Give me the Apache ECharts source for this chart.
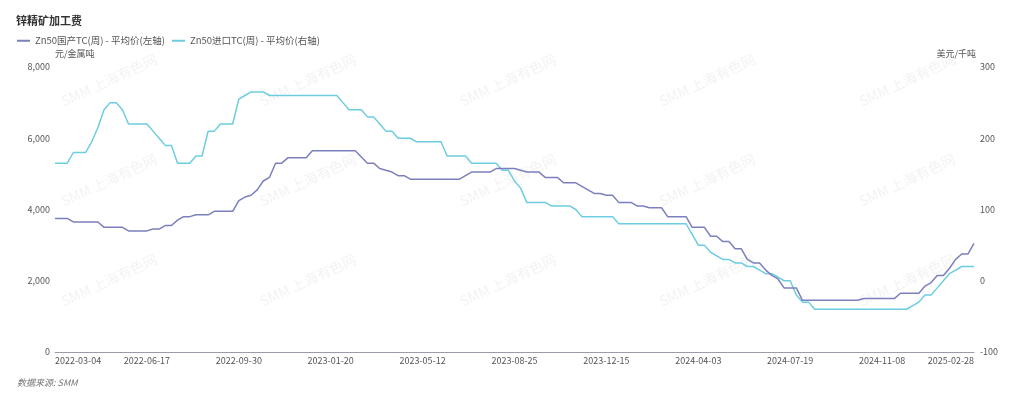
<!DOCTYPE html>
<html>
<head>
<meta charset="utf-8">
<script src="https://cdn.jsdelivr.net/npm/echarts@6/dist/echarts.min.js"></script>
<style>
html, body { margin: 0; padding: 0; background: #fff; }
#chart { width: 1024px; height: 399px; }
</style>
</head>
<body>
<div id="chart"></div>
<script>
// weekly dates (Fridays), holiday weeks skipped, one Wednesday release
const startDate = '2022-03-04'
const endDate = '2025-02-28'
const skippedWeeks = ['2022-10-07', '2023-01-27', '2023-10-06', '2024-02-16', '2024-10-04', '2025-01-31']
const movedWeeks = { '2024-04-05': '2024-04-03' }

// Zn50国产TC(周) - 平均价, 元/金属吨 (left axis)
const domesticTC = [
  3750, 3750, 3750, 3650, 3650, 3650, 3650, 3650, 3500, 3500,
  3500, 3500, 3400, 3400, 3400, 3400, 3450, 3450, 3550, 3550,
  3700, 3800, 3800, 3850, 3850, 3850, 3950, 3950, 3950, 3950,
  4250, 4350, 4400, 4550, 4800, 4900, 5300, 5300, 5450, 5450,
  5450, 5450, 5650, 5650, 5650, 5650, 5650, 5650, 5650, 5650,
  5475, 5300, 5300, 5150, 5100, 5050, 4950, 4950, 4850, 4850,
  4850, 4850, 4850, 4850, 4850, 4850, 4850, 4950, 5050, 5050,
  5050, 5050, 5150, 5150, 5150, 5150, 5100, 5050, 5050, 5050,
  4900, 4900, 4900, 4750, 4750, 4750, 4650, 4550, 4450, 4450,
  4400, 4400, 4200, 4200, 4200, 4100, 4100, 4050, 4050, 4050,
  3800, 3800, 3800, 3800, 3500, 3500, 3500, 3250, 3250, 3100,
  3100, 2900, 2900, 2600, 2500, 2500, 2300, 2150, 2050, 1800,
  1800, 1800, 1450, 1450, 1450, 1450, 1450, 1450, 1450, 1450,
  1450, 1450, 1500, 1500, 1500, 1500, 1500, 1500, 1650, 1650,
  1650, 1650, 1850, 1950, 2150, 2150, 2350, 2600, 2750, 2750,
  3050
]

// Zn50进口TC(周) - 平均价, 美元/千吨 (right axis)
const importTC = [
  165, 165, 165, 180, 180, 180, 195, 215, 240, 250,
  250, 240, 220, 220, 220, 220, 210, 200, 190, 190,
  165, 165, 165, 175, 175, 210, 210, 220, 220, 220,
  255, 260, 265, 265, 265, 260, 260, 260, 260, 260,
  260, 260, 260, 260, 260, 260, 260, 250, 240, 240,
  240, 230, 230, 220, 210, 210, 200, 200, 200, 195,
  195, 195, 195, 195, 175, 175, 175, 175, 165, 165,
  165, 165, 165, 155, 155, 140, 130, 110, 110, 110,
  110, 105, 105, 105, 105, 100, 90, 90, 90, 90,
  90, 90, 80, 80, 80, 80, 80, 80, 80, 80,
  80, 80, 80, 80, 65, 50, 50, 40, 35, 30,
  30, 25, 25, 20, 20, 15, 10, 10, 5, 0,
  0, -20, -30, -30, -40, -40, -40, -40, -40, -40,
  -40, -40, -40, -40, -40, -40, -40, -40, -40, -40,
  -35, -30, -20, -20, -10, 0, 10, 15, 20, 20,
  20
]

const seriesNames = ['Zn50国产TC(周) - 平均价(左轴)', 'Zn50进口TC(周) - 平均价(右轴)']

function buildDates() {
  const out = []
  const d = new Date(startDate + 'T00:00:00Z')
  const end = new Date(endDate + 'T00:00:00Z')
  while (d <= end) {
    const s = d.toISOString().slice(0, 10)
    if (skippedWeeks.indexOf(s) < 0) out.push(movedWeeks[s] || s)
    d.setUTCDate(d.getUTCDate() + 7)
  }
  return out
}
const dates = buildDates()

const font = '"Noto Sans CJK SC", "Noto Sans", sans-serif'

function watermarks() {
  const items = []
  const xs = [109, 308, 508, 707, 907]
  const ys = [80, 180, 280]
  xs.forEach(x => ys.forEach(y => {
    items.push({
      type: 'text',
      x: x, y: y,
      rotation: 25 * Math.PI / 180,
      silent: true,
      z: 0,
      style: {
        text: 'SMM 上海有色网',
        fill: 'rgba(0,0,0,0.055)',
        font: '14px ' + font,
        align: 'center',
        verticalAlign: 'middle'
      }
    })
  }))
  return items
}

const chart = echarts.init(document.getElementById('chart'))
chart.setOption({
  animation: false,
  textStyle: { fontFamily: font },
  title: {
    text: '锌精矿加工费',
    left: 11,
    top: 10,
    textStyle: { fontSize: 11, fontWeight: 'bold', color: '#333' }
  },
  legend: {
    left: 12,
    top: 31,
    icon: 'rect',
    itemWidth: 13,
    itemHeight: 2,
    itemGap: 7,
    textStyle: { fontSize: 9.5, color: '#555' },
    data: seriesNames
  },
  graphic: watermarks().concat([{
    type: 'text',
    left: 17,
    top: 378,
    silent: true,
    style: {
      text: '数据来源: SMM',
      fill: '#777',
      font: 'italic 9px ' + font
    }
  }]),
  grid: { left: 55, right: 50, top: 67, bottom: 47, containLabel: false },
  xAxis: {
    type: 'category',
    boundaryGap: false,
    data: dates,
    axisLine: { lineStyle: { color: '#9a9ca8', width: 1 } },
    axisTick: { show: false },
    axisLabel: {
      interval: 14,
      fontSize: 9,
      color: '#555',
      margin: 4,
      alignMinLabel: 'left',
      alignMaxLabel: 'right',
      showMinLabel: true,
      showMaxLabel: true
    }
  },
  yAxis: [{
    type: 'value',
    name: '元/金属吨',
    nameGap: 9,
    nameTextStyle: { fontSize: 9, color: '#555', align: 'left' },
    min: 0, max: 8000, interval: 2000,
    axisLine: { show: false },
    axisTick: { show: false },
    splitLine: { show: false },
    axisLabel: {
      fontSize: 9, color: '#555', margin: 5,
      formatter: v => v.toLocaleString('en-US')
    }
  }, {
    type: 'value',
    name: '美元/千吨',
    nameGap: 9,
    nameTextStyle: { fontSize: 9, color: '#555', align: 'right', padding: [0, -2, 0, 0] },
    min: -100, max: 300, interval: 100,
    axisLine: { show: false },
    axisTick: { show: false },
    splitLine: { show: false },
    axisLabel: { fontSize: 9, color: '#555', margin: 6 }
  }],
  series: [{
    name: seriesNames[0],
    type: 'line',
    yAxisIndex: 0,
    showSymbol: false,
    symbol: 'none',
    z: 3,
    itemStyle: { color: '#7b80bd' },
    lineStyle: { color: '#7b80bd', width: 1.5 },
    data: domesticTC
  }, {
    name: seriesNames[1],
    type: 'line',
    yAxisIndex: 1,
    showSymbol: false,
    symbol: 'none',
    z: 2,
    itemStyle: { color: '#6ccde0' },
    lineStyle: { color: '#6ccde0', width: 1.5 },
    data: importTC
  }]
})
</script>
</body>
</html>
